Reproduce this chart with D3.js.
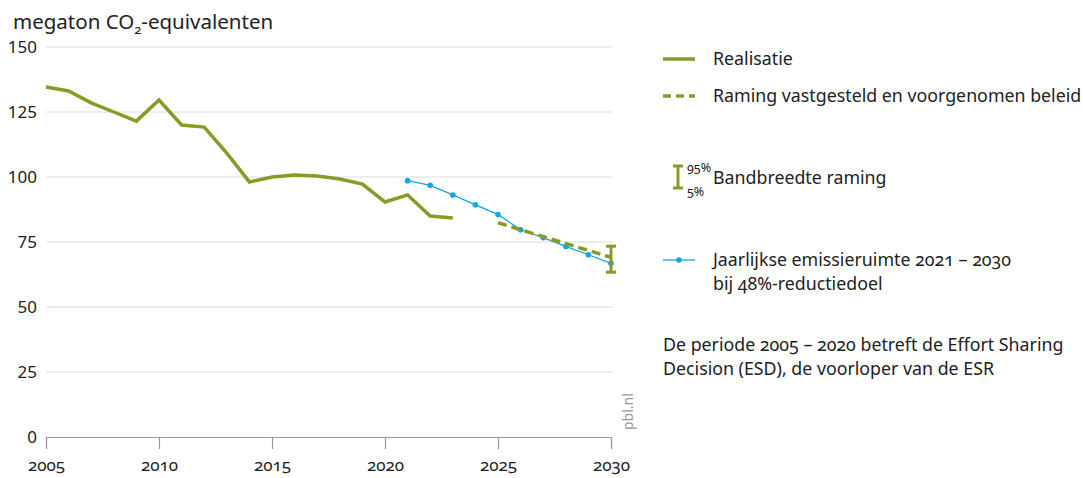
<!DOCTYPE html>
<html>
<head>
<meta charset="utf-8">
<script src="https://cdn.jsdelivr.net/npm/d3@7"></script>
<style>
  body { margin: 0; background: #fff; }
  svg text { font-family: "Noto Sans", sans-serif; fill: #222; font-feature-settings: "onum"; }
  svg text.lnum { font-feature-settings: "lnum"; }
</style>
</head>
<body>
<div id="chart"></div>
<script>
// chart data
var realYears = [2005, 2006, 2007, 2008, 2009, 2010, 2011, 2012, 2013, 2014, 2015, 2016, 2017, 2018, 2019, 2020, 2021, 2022, 2023];
var realValues = [134.6, 133.1, 128.5, 125, 121.5, 129.6, 120, 119.2, 109.2, 98.1, 100, 100.8, 100.4, 99.2, 97.3, 90.4, 93.1, 85, 84.2];
var ramingYears = [2025, 2030];
var ramingValues = [82.4, 69.1];
var bandYear = 2030;
var bandLow = 63.4;
var bandHigh = 73.4;
var ruimteYears = [2021, 2022, 2023, 2024, 2025, 2026, 2027, 2028, 2029, 2030];
var ruimteValues = [98.6, 96.8, 93.1, 89.3, 85.6, 79.7, 76.7, 73.3, 70.1, 66.8];
var yTicks = [0, 25, 50, 75, 100, 125, 150];
var xTicks = [2005, 2010, 2015, 2020, 2025, 2030];

var green = '#8a9a26', blue = '#16a5e1';

var svgWidth = 1083, svgHeight = 478,
  margin = { top: 47, left: 46, right: 472, bottom: 41 };
var width = svgWidth - margin.left - margin.right,
  height = svgHeight - margin.top - margin.bottom;

var svg = d3.select('#chart').append('svg')
  .attr('width', svgWidth).attr('height', svgHeight);
var g = svg.append('g')
  .attr('transform', 'translate(' + margin.left + ',' + margin.top + ')');

var x = d3.scaleLinear().domain([2005, 2030]).range([0, width]);
var y = d3.scaleLinear().domain([0, 150]).range([height, 0]);

// gridlines
g.selectAll('.grid').data(yTicks.filter(function(d) { return d > 0; }))
  .enter().append('line')
  .attr('x1', 0).attr('x2', width + 2)
  .attr('y1', y).attr('y2', y)
  .attr('stroke', '#dcdcdc').attr('stroke-width', 1.2);

// y tick labels
g.selectAll('.ylab').data(yTicks).enter().append('text')
  .classed('lnum', true)
  .attr('x', -9).attr('y', function(d) { return y(d); })
  .attr('dy', '0.35em').attr('text-anchor', 'end')
  .style('font-size', '17px')
  .text(function(d) { return d; });

// x axis
var xAxis = g.append('g').attr('transform', 'translate(0,' + height + ')')
  .call(d3.axisBottom(x).tickValues(xTicks).tickFormat(d3.format('d')).tickSize(12).tickPadding(10));
xAxis.select('.domain').attr('stroke', '#999').attr('stroke-width', 1.2);
xAxis.selectAll('.tick line').attr('stroke', '#999').attr('stroke-width', 1.2);
xAxis.selectAll('.tick text').style('font-size', '17px').attr('fill', '#222')
  .style('font-family', '"Noto Sans", sans-serif')
  .style('font-feature-settings', '"onum"');

// y title
var title = svg.append('text').attr('x', 13).attr('y', 29).style('font-size', '20.5px');
title.append('tspan').text('megaton CO');
title.append('tspan').attr('dy', 5).style('font-size', '13px').text('2');
title.append('tspan').attr('dy', -5).text('-equivalenten');

// pbl.nl
svg.append('text')
  .attr('transform', 'translate(633,430) rotate(-90)')
  .style('font-size', '14px').style('fill', '#999')
  .text('pbl.nl');

var line = d3.line()
  .x(function(d) { return x(d[0]); })
  .y(function(d) { return y(d[1]); });

// realisatie
g.append('path')
  .datum(d3.zip(realYears, realValues))
  .attr('d', line)
  .attr('fill', 'none').attr('stroke', green).attr('stroke-width', 3.5)
  .attr('stroke-linejoin', 'miter');

// emissieruimte
var ruimte = d3.zip(ruimteYears, ruimteValues);
g.append('path').datum(ruimte).attr('d', line)
  .attr('fill', 'none').attr('stroke', blue).attr('stroke-width', 1.3);
g.selectAll('.dot').data(ruimte).enter().append('circle')
  .attr('cx', function(d) { return x(d[0]); })
  .attr('cy', function(d) { return y(d[1]); })
  .attr('r', 2.8).attr('fill', blue);

// raming
g.append('path').datum(d3.zip(ramingYears, ramingValues)).attr('d', line)
  .attr('fill', 'none').attr('stroke', green).attr('stroke-width', 3.5)
  .attr('stroke-dasharray', '9,5');

// bandbreedte
function drawBand(sel, cx, yTop, yBot) {
  sel.append('line').attr('x1', cx).attr('x2', cx).attr('y1', yTop).attr('y2', yBot)
    .attr('stroke', green).attr('stroke-width', 3);
  [yTop, yBot].forEach(function(v) {
    sel.append('line').attr('x1', cx - 5).attr('x2', cx + 5).attr('y1', v).attr('y2', v)
      .attr('stroke', green).attr('stroke-width', 3);
  });
}
drawBand(g, x(bandYear), y(bandHigh), y(bandLow));

// legend
var lg = svg.append('g');
var lx = 663, tx = 713, fs = '17.8px';
lg.append('line').attr('x1', lx).attr('x2', lx + 32).attr('y1', 59).attr('y2', 59)
  .attr('stroke', green).attr('stroke-width', 3.5);
lg.append('text').attr('x', tx).attr('y', 65).style('font-size', fs).text('Realisatie');

lg.append('line').attr('x1', lx).attr('x2', lx + 32).attr('y1', 96).attr('y2', 96)
  .attr('stroke', green).attr('stroke-width', 3.5).attr('stroke-dasharray', '8,5');
lg.append('text').attr('x', tx).attr('y', 102).style('font-size', fs)
  .text('Raming vastgesteld en voorgenomen beleid');

drawBand(lg, 678, 166, 188);
lg.append('text').attr('x', 687).attr('y', 172).style('font-size', '12.5px').text('95%');
lg.append('text').attr('x', 687).attr('y', 196).style('font-size', '12.5px').text('5%');
lg.append('text').attr('x', tx).attr('y', 184).style('font-size', fs).text('Bandbreedte raming');

lg.append('line').attr('x1', lx).attr('x2', lx + 32).attr('y1', 260).attr('y2', 260)
  .attr('stroke', blue).attr('stroke-width', 1.3);
lg.append('circle').attr('cx', 679).attr('cy', 260).attr('r', 2.8).attr('fill', blue);
lg.append('text').attr('x', tx).attr('y', 266).style('font-size', fs)
  .text('Jaarlijkse emissieruimte 2021 – 2030');
lg.append('text').attr('x', tx).attr('y', 290).style('font-size', fs)
  .text('bij 48%-reductiedoel');

lg.append('text').attr('x', 663).attr('y', 351).style('font-size', fs)
  .text('De periode 2005 – 2020 betreft de Effort Sharing');
lg.append('text').attr('x', 663).attr('y', 375).style('font-size', fs)
  .text('Decision (ESD), de voorloper van de ESR');
</script>
</body>
</html>
